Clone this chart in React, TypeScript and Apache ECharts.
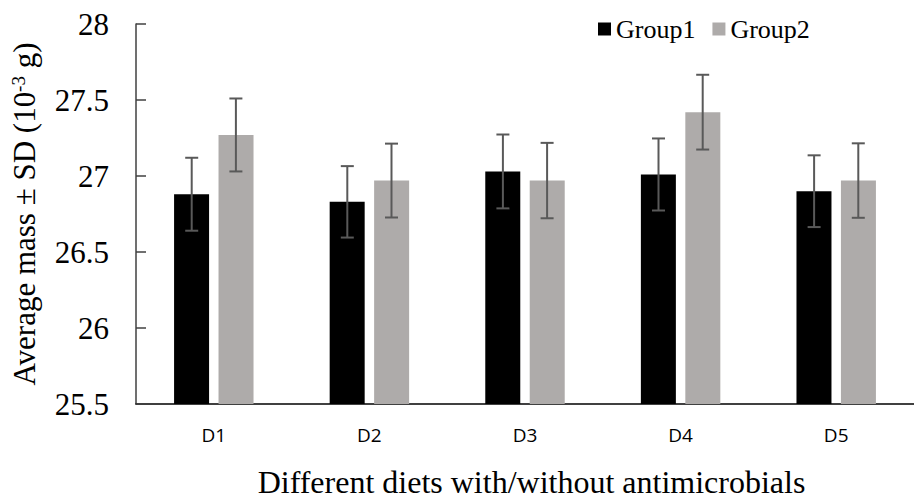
import React, { useEffect, useRef } from "react";
import * as echarts from "echarts";

const categories = ["D1", "D2", "D3", "D4", "D5"];
const group1 = [26.88, 26.83, 27.03, 27.01, 26.9];
const group2 = [27.27, 26.97, 26.97, 27.42, 26.97];
const sd1 = [0.24, 0.235, 0.243, 0.237, 0.236];
const sd2 = [0.24, 0.243, 0.248, 0.246, 0.245];
const yTicks = { min: 25.5, max: 28, interval: 0.5 };

const SERIF = "'Liberation Serif', 'Times New Roman', serif";
const SANS = "'Open Sans', 'Noto Sans', sans-serif";

export default function App() {
  const ref = useRef<HTMLDivElement>(null);
  useEffect(() => {
    if (!ref.current) return;
    const chart = echarts.init(ref.current, null, { renderer: "svg" });
    const errData: number[][] = [];
    categories.forEach((_, i) => {
      errData.push([i, group1[i] - sd1[i], group1[i] + sd1[i], -1]);
      errData.push([i, group2[i] - sd2[i], group2[i] + sd2[i], 1]);
    });
    const option: any = {
      animation: false,
      backgroundColor: "#ffffff",
      grid: { left: 136, top: 24, width: 787.5, bottom: 92.7, containLabel: false },
      legend: {
        data: ["Group1", "Group2"],
        left: 593,
        top: 11,
        itemWidth: 13,
        itemHeight: 13,
        itemGap: 17,
        icon: "rect",
        textStyle: { fontFamily: SERIF, fontSize: 26, color: "#000" },
      },
      xAxis: {
        type: "category",
        data: categories,
        axisLine: { lineStyle: { color: "#000", width: 1.5 } },
        axisTick: { show: false },
        axisLabel: { fontFamily: SANS, fontSize: 19, color: "#000", margin: 21 },
        name: "Different diets with/without antimicrobials",
        nameLocation: "middle",
        nameGap: 62,
        nameTextStyle: { fontFamily: SERIF, fontSize: 32, color: "#000", padding: [0, 0, 0, 13] },
      },
      yAxis: {
        type: "value",
        min: yTicks.min,
        max: yTicks.max,
        interval: yTicks.interval,
        axisLine: { show: true, lineStyle: { color: "#404040", width: 1.5 } },
        axisTick: { show: true, inside: true, length: 10, lineStyle: { color: "#404040", width: 1.5 } },
        splitLine: { show: false },
        axisLabel: {
          fontFamily: SERIF,
          fontSize: 31,
          color: "#000",
          margin: 27,
          formatter: (v: number) => String(Math.round(v * 10) / 10),
        },
        name: "{a|Average mass ± SD (10}{s|-3}{a| g)}",
        nameLocation: "middle",
        nameRotate: 90,
        nameGap: 96,
        nameTextStyle: {
          rich: {
            a: { fontFamily: SERIF, fontSize: 31, color: "#000" },
            s: { fontFamily: SERIF, fontSize: 19, color: "#000", verticalAlign: "top" },
          },
        },
      },
      series: [
        {
          name: "Group1",
          type: "bar",
          data: group1,
          barWidth: 35,
          barGap: "27%",
          itemStyle: { color: "#000000" },
        },
        {
          name: "Group2",
          type: "bar",
          data: group2,
          barWidth: 35,
          itemStyle: { color: "#AEABAA" },
        },
        {
          type: "custom",
          name: "err",
          z: 10,
          data: errData,
          encode: { x: 0, y: [1, 2] },
          renderItem: (params: any, api: any) => {
            const x = api.value(0);
            const lo = api.value(1);
            const hi = api.value(2);
            const side = api.value(3);
            const band = api.size([1, 0])[0];
            const off = side * band * 0.142;
            const pHi = api.coord([x, hi]);
            const pLo = api.coord([x, lo]);
            const cx = pHi[0] + off;
            const half = 6.5;
            const style = { stroke: "#595959", lineWidth: 2 };
            return {
              type: "group",
              children: [
                { type: "line", shape: { x1: cx, y1: pHi[1], x2: cx, y2: pLo[1] }, style },
                { type: "line", shape: { x1: cx - half, y1: pHi[1], x2: cx + half, y2: pHi[1] }, style },
                { type: "line", shape: { x1: cx - half, y1: pLo[1], x2: cx + half, y2: pLo[1] }, style },
              ],
            };
          },
        },
      ],
    };
    chart.setOption(option);
    return () => chart.dispose();
  }, []);
  return (
    <div
      ref={ref}
      style={{ position: "fixed", left: 0, top: 0, width: 914, height: 503, background: "#fff" }}
    />
  );
}
